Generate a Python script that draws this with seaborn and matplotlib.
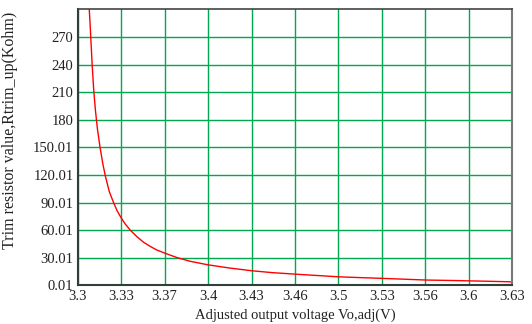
import pandas as pd
import matplotlib
matplotlib.use("Agg")
import matplotlib.pyplot as plt
import seaborn as sns

# values
voltage = [3.3086, 3.3088, 3.3094, 3.3100, 3.3110, 3.3122, 3.3135, 3.3150, 3.3170,
           3.3190, 3.3210, 3.3240, 3.3270, 3.3300, 3.3330, 3.3360, 3.3400, 3.3450,
           3.3500, 3.3550, 3.3600, 3.3660, 3.3750, 3.3850, 3.3990, 3.4150, 3.4320,
           3.4480, 3.4650, 3.4820, 3.4980, 3.5150, 3.5310, 3.5480, 3.5640, 3.5800,
           3.5970, 3.6130, 3.6280, 3.6300]
rtrim = [308.0, 300.0, 285.0, 268.0, 240.0, 212.0, 190.0, 170.0, 150.0,
         133.0, 119.0, 102.0, 91.0, 81.0, 73.5, 67.0, 60.0, 53.0,
         47.0, 42.5, 38.6, 35.2, 30.5, 26.4, 22.4, 19.0, 16.0,
         13.9, 12.3, 10.8, 9.4, 8.5, 7.7, 6.8, 5.9, 5.5,
         5.0, 4.5, 4.0, 3.6]

x_ticks = [3.3 + 0.033 * i for i in range(11)]
x_labels = ["3.3", "3.33", "3.37", "3.4", "3.43", "3.46", "3.5", "3.53", "3.56", "3.6", "3.63"]
y_ticks = [0.01 + 30 * i for i in range(10)]
y_labels = ["0.01", "30.01", "60.01", "90.01", "120.01", "150.01", "180", "210", "240", "270"]

sns.set_style("white")
plt.rcParams['font.family'] = ['Liberation Serif', 'DejaVu Serif']

df = pd.DataFrame({"V": voltage, "R": rtrim})

fig = plt.figure(figsize=(5.32, 3.24), dpi=100)
ax = fig.add_axes([0.146, 0.119, 0.817, 0.852])

ax.set_xlim(3.3, 3.63)
ax.set_ylim(0.01, 300.01)
ax.set_xticks(x_ticks)
ax.set_xticklabels(x_labels)
ax.set_yticks(y_ticks)
ax.set_yticklabels(y_labels)
ax.grid(True, color='#00a84f', linewidth=1.0)
ax.set_axisbelow(True)

sns.lineplot(data=df, x="V", y="R", ax=ax, color='#ff0000', linewidth=1.0)

ax.tick_params(axis='both', length=0, labelsize=10.5, colors='#222222', pad=3)
ax.set_xlabel("Adjusted output voltage Vo,adj(V)", fontsize=10.5, color='#222222', labelpad=4)
ax.set_ylabel("Trim resistor value,Rtrim_up(Kohm)", fontsize=11.5, color='#222222')
ax.yaxis.set_label_coords(-0.137, 0.563)

for side in ['left', 'bottom']:
    ax.spines[side].set_color('#2f3f3a')
    ax.spines[side].set_linewidth(1.5)
ax.spines['top'].set_color('#444444')
ax.spines['top'].set_linewidth(1.2)
ax.spines['right'].set_color('#777777')
ax.spines['right'].set_linewidth(1.5)

fig.savefig("out.png", dpi=100)
